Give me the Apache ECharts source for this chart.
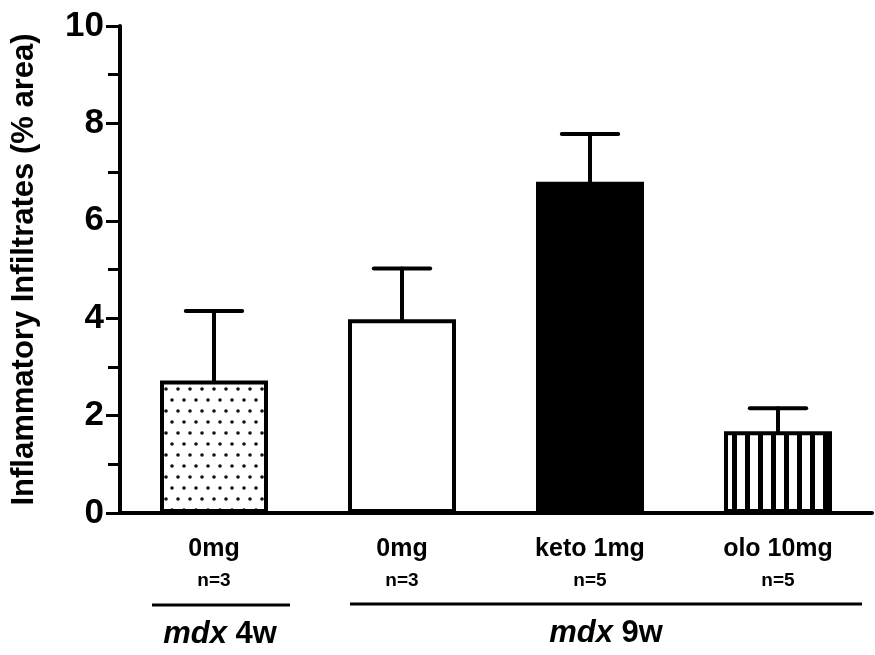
<!DOCTYPE html>
<html>
<head>
<meta charset="utf-8">
<script src="https://cdn.jsdelivr.net/npm/echarts@6/dist/echarts.min.js"></script>
<style>
html,body{margin:0;padding:0;background:#fff;}
#chart{width:875px;height:655px;}
</style>
</head>
<body>
<div id="chart"></div>
<script>
// ---- data ----
const categories = ['0mg', '0mg', 'keto 1mg', 'olo 10mg'];
const nLabels = ['n=3', 'n=3', 'n=5', 'n=5'];
const means = [2.72, 3.98, 6.8, 1.68];
const errTops = [4.15, 5.02, 7.78, 2.15];
const yTicks = [0, 2, 4, 6, 8, 10];
const groupLabels = ['mdx 4w', 'mdx 9w'];

// ---- patterns ----
function dotPattern() {
  const c = document.createElement('canvas');
  c.width = 12; c.height = 22;
  const g = c.getContext('2d');
  g.fillStyle = '#fff'; g.fillRect(0, 0, 12, 22);
  g.fillStyle = '#111';
  g.beginPath(); g.arc(4, 4, 1.8, 0, Math.PI * 2); g.fill();
  g.beginPath(); g.arc(10, 15, 1.8, 0, Math.PI * 2); g.fill();
  return c;
}
function stripePattern() {
  const c = document.createElement('canvas');
  c.width = 13; c.height = 10;
  const g = c.getContext('2d');
  g.fillStyle = '#fff'; g.fillRect(0, 0, 13, 10);
  g.fillStyle = '#000'; g.fillRect(4, 0, 5, 10);
  return c;
}

const fills = [
  { image: dotPattern(), repeat: 'repeat' },
  '#fff',
  '#000',
  { image: stripePattern(), repeat: 'repeat' }
];

const chart = echarts.init(document.getElementById('chart'), null, { renderer: 'canvas' });
const FONT = '"Liberation Sans", Arial, Helvetica, sans-serif';

function groupText(label, x, y) {
  const parts = label.split(' ');
  return {
    type: 'text', x: x, y: y,
    style: {
      text: '{i|' + parts[0] + ' }{r|' + parts[1] + '}', align: 'center', verticalAlign: 'middle',
      rich: {
        i: { fontFamily: FONT, fontWeight: 'bold', fontStyle: 'italic', fontSize: 31, fill: '#000' },
        r: { fontFamily: FONT, fontWeight: 'bold', fontSize: 31, fill: '#000' }
      }
    }
  };
}

chart.setOption({
  backgroundColor: '#fff',
  animation: false,
  grid: { left: 120, right: 3, top: 26, bottom: 142, outerBoundsMode: 'none', containLabel: false },
  xAxis: {
    type: 'category',
    data: categories,
    axisLine: { lineStyle: { color: '#000', width: 4 } },
    axisTick: { show: false },
    axisLabel: {
      margin: 20,
      interval: 0,
      formatter: function (v, i) { return '{a|' + v + '}\n{b|' + nLabels[i] + '}'; },
      rich: {
        a: { fontFamily: FONT, fontWeight: 'bold', fontSize: 25, color: '#000', lineHeight: 32 },
        b: { fontFamily: FONT, fontWeight: 'bold', fontSize: 19, color: '#000', lineHeight: 32 }
      }
    }
  },
  yAxis: {
    type: 'value',
    min: 0, max: 10, interval: 2,
    name: 'Inflammatory Infiltrates (% area)',
    nameLocation: 'middle',
    nameRotate: 90,
    nameGap: 80,
    nameTextStyle: { fontFamily: FONT, fontWeight: 'bold', fontSize: 31, color: '#000' },
    axisLine: { show: true, lineStyle: { color: '#000', width: 4 } },
    axisTick: { show: true, length: 14, lineStyle: { color: '#000', width: 3 } },
    minorTick: { show: true, splitNumber: 2, length: 12, lineStyle: { color: '#000', width: 3 } },
    splitLine: { show: false },
    axisLabel: {
      margin: 16,
      fontFamily: FONT, fontWeight: 'bold', fontSize: 35, color: '#000',
      formatter: function (v) { return yTicks.indexOf(v) >= 0 ? String(v) : ''; }
    }
  },
  series: [
    {
      type: 'custom',
      z: 1,
      data: means.map(function (m, i) { return [i, m, errTops[i]]; }),
      renderItem: function (params, api) {
        const i = api.value(0);
        const lo = api.coord([i, api.value(1)]);
        const hi = api.coord([i, api.value(2)]);
        const half = api.size([1, 0])[0] * 0.15;
        const st = { stroke: '#000', lineWidth: 4, lineCap: 'round' };
        return {
          type: 'group',
          children: [
            { type: 'line', shape: { x1: lo[0], y1: lo[1], x2: hi[0], y2: hi[1] }, style: st },
            { type: 'line', shape: { x1: hi[0] - half, y1: hi[1], x2: hi[0] + half, y2: hi[1] }, style: st }
          ]
        };
      }
    },
    {
      type: 'bar',
      z: 2,
      barWidth: 108,
      data: means.map(function (m, i) {
        return { value: m, itemStyle: { color: fills[i], borderColor: '#000', borderWidth: 4 } };
      })
    }
  ],
  graphic: [
    { type: 'line', shape: { x1: 152, y1: 605, x2: 290, y2: 605 }, style: { stroke: '#000', lineWidth: 3 } },
    { type: 'line', shape: { x1: 350, y1: 604, x2: 862, y2: 604 }, style: { stroke: '#000', lineWidth: 3 } },
    groupText(groupLabels[0], 220, 634),
    groupText(groupLabels[1], 606, 633)
  ]
});
</script>
</body>
</html>
